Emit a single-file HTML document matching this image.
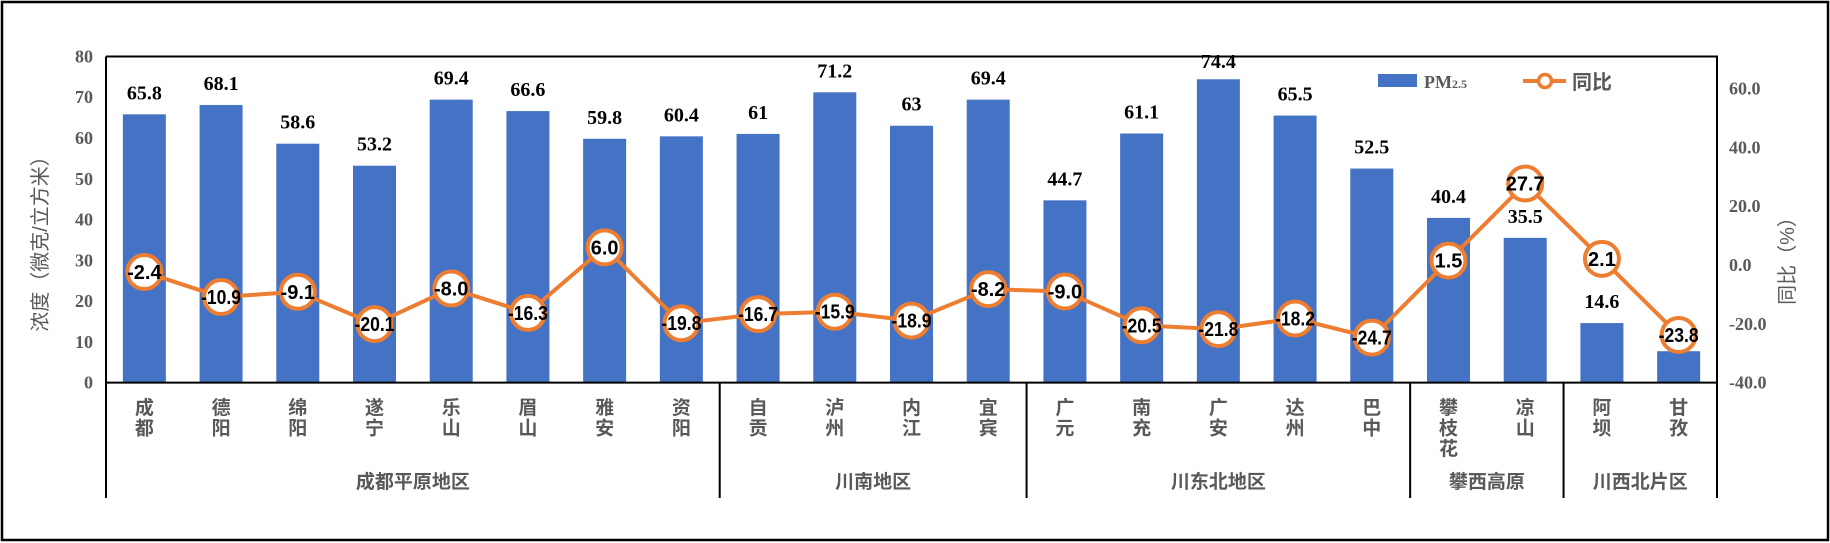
<!DOCTYPE html>
<html><head><meta charset="utf-8"><style>
html,body{margin:0;padding:0;background:#fff;}
svg{display:block;}
</style></head><body>
<svg id="c" width="1830" height="543" xmlns="http://www.w3.org/2000/svg"></svg>
<script>
const names=[["成","都"],["德","阳"],["绵","阳"],["遂","宁"],["乐","山"],["眉","山"],["雅","安"],["资","阳"],["自","贡"],["泸","州"],["内","江"],["宜","宾"],["广","元"],["南","充"],["广","安"],["达","州"],["巴","中"],["攀","枝","花"],["凉","山"],["阿","坝"],["甘","孜"]];
const bars=[65.8,68.1,58.6,53.2,69.4,66.6,59.8,60.4,61,71.2,63,69.4,44.7,61.1,74.4,65.5,52.5,40.4,35.5,14.6,7.7];
const line=[-2.4,-10.9,-9.1,-20.1,-8.0,-16.3,6.0,-19.8,-16.7,-15.9,-18.9,-8.2,-9.0,-20.5,-21.8,-18.2,-24.7,1.5,27.7,2.1,-23.8];
const L=106,R=1717,T=56.5,Z=382.6,B=498,W=(R-L)/21;
const yl=v=>Z-v*4.077, yr=v=>265-v*2.94;
let s='';
s+='<rect x="2" y="2" width="1826" height="538" fill="none" stroke="#000" stroke-width="2.5"/>';
const gray='#595959';
bars.forEach((v,i)=>{const cx=L+W*(i+.5);s+=`<rect x="${cx-21.5}" y="${yl(v)}" width="43" height="${Z-yl(v)}" fill="#4472C4"/>`;
let by=Math.max(yl(v)-15,68);
s+=`<text x="${cx}" y="${by}" text-anchor="middle" font-family="Liberation Serif,serif" font-weight="bold" font-size="20" fill="#000">${v}</text>`;});
s+=`<path d="M${L} ${T}H${R}V${B}M${L} ${T}V${B}M${L} ${Z}H${R}" fill="none" stroke="#000" stroke-width="2"/>`;
[8,12,17,19].forEach(k=>{const x=L+W*k;s+=`<line x1="${x}" y1="${Z}" x2="${x}" y2="${B}" stroke="#000" stroke-width="2"/>`;});
for(let v=0;v<=80;v+=10)s+=`<text x="93" y="${yl(v)+6}" text-anchor="end" font-family="Liberation Serif,serif" font-weight="bold" font-size="18" fill="${gray}">${v}</text>`;
for(let v=-40;v<=60;v+=20)s+=`<text x="1729" y="${yr(v)+6}" font-family="Liberation Serif,serif" font-weight="bold" font-size="18" fill="${gray}">${v.toFixed(1)}</text>`;
s+=`<text transform="translate(47,239) rotate(-90)" text-anchor="middle" font-family="Liberation Sans,Noto Sans CJK SC,sans-serif" font-size="20" fill="${gray}">浓度（微克/立方米）</text>`;
s+=`<text transform="translate(1794,256) rotate(-90)" text-anchor="middle" font-family="Liberation Sans,Noto Sans CJK SC,sans-serif" font-size="20" fill="${gray}">同比（%）</text>`;
names.forEach((n,i)=>{const cx=L+W*(i+.5);n.forEach((c,j)=>{s+=`<text x="${cx}" y="${414+j*20.5}" text-anchor="middle" font-family="Noto Sans CJK SC,sans-serif" font-weight="bold" font-size="19" fill="${gray}">${c}</text>`;});});
[["成都平原地区",0,8],["川南地区",8,12],["川东北地区",12,17],["攀西高原",17,19],["川西北片区",19,21]].forEach(g=>{const cx=L+W*(g[1]+g[2])/2;s+=`<text x="${cx}" y="488" text-anchor="middle" font-family="Noto Sans CJK SC,sans-serif" font-weight="bold" font-size="19" fill="${gray}">${g[0]}</text>`;});
let p=line.map((v,i)=>`${L+W*(i+.5)},${yr(v)}`).join(' ');
s+=`<polyline points="${p}" fill="none" stroke="#ED7D31" stroke-width="4"/>`;
line.forEach((v,i)=>{const cx=L+W*(i+.5),cy=yr(v);s+=`<ellipse cx="${cx}" cy="${cy}" rx="17" ry="17" fill="#fff" stroke="#ED7D31" stroke-width="4"/>`;
const t=v.toFixed(1);
s+=`<text x="${cx}" y="${cy+7}" text-anchor="middle" font-family="Liberation Sans,sans-serif" font-weight="bold" font-size="20" fill="#000"${t.length>4?' textLength="40" lengthAdjust="spacingAndGlyphs"':''}>${t}</text>`;});
s+=`<rect x="1378" y="74" width="39" height="13" fill="#4472C4"/>`;
s+=`<text x="1424" y="88" font-family="Liberation Serif,serif" font-weight="bold" font-size="18" fill="${gray}">PM<tspan font-size="12">2.5</tspan></text>`;
s+=`<line x1="1523" y1="81" x2="1566" y2="81" stroke="#ED7D31" stroke-width="4"/><circle cx="1545" cy="81" r="6.5" fill="#fff" stroke="#ED7D31" stroke-width="3.5"/>`;
s+=`<text x="1572" y="89" font-family="Noto Sans CJK SC,sans-serif" font-weight="bold" font-size="20" fill="${gray}">同比</text>`;
document.getElementById('c').innerHTML=s;
</script>
</body></html>
